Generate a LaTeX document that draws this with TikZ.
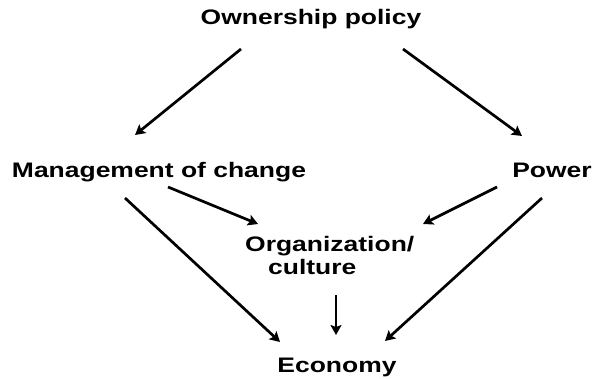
\documentclass[tikz,border=0pt]{standalone}
\usepackage{fontspec}
\setmainfont{Liberation Sans}
\usepackage{graphicx}
\usetikzlibrary{calc}
\usetikzlibrary{arrows.meta}
\newcommand{\wide}[1]{\scalebox{1.26}[1]{#1}}

\begin{document}
\begin{tikzpicture}[x=1pt,y=-1pt,
  lbl/.style={inner sep=0pt,font=\fontsize{21}{23}\selectfont\bfseries},
  link/.style={line width=2.7pt,-{Stealth[length=10pt,width=11pt,inset=2pt]}}]
\useasboundingbox (0,0) rectangle (594,379);
\node[lbl,anchor=base] (own) at (311,25) {\wide{Ownership policy}};
\node[lbl,anchor=base] (mgmt) at (159,178) {\wide{Management of change}};
\node[lbl,anchor=base] (power) at (552,178) {\wide{Power}};
\node[lbl,anchor=north west,align=left] (org) at (245,236) {\wide{Organization/}\\\hspace*{23pt}\wide{culture}};
\node[lbl,anchor=base] (econ) at (337,372) {\wide{Economy}};
\draw[link] ($(own.base)+(-70,24)$) -- ($(mgmt.base)+(-24,-43)$);
\draw[link] ($(own.base)+(92,24)$) -- ($(power.base)+(-30,-42)$);
\draw[link] ($(mgmt.base)+(9,9)$) -- ($(org.north west)+(13,-12)$);
\draw[link] ($(power.base)+(-55,9)$) -- ($(org.north west)+(178,-12)$);
\draw[link] ($(mgmt.base)+(-34,20)$) -- ($(econ.base)+(-57,-30)$);
\draw[link] ($(power.base)+(-10,20)$) -- ($(econ.base)+(48,-31)$);
\draw[link] ($(org.north west)+(91,59)$) -- ($(econ.base)+(-1,-37)$);
\end{tikzpicture}
\end{document}
